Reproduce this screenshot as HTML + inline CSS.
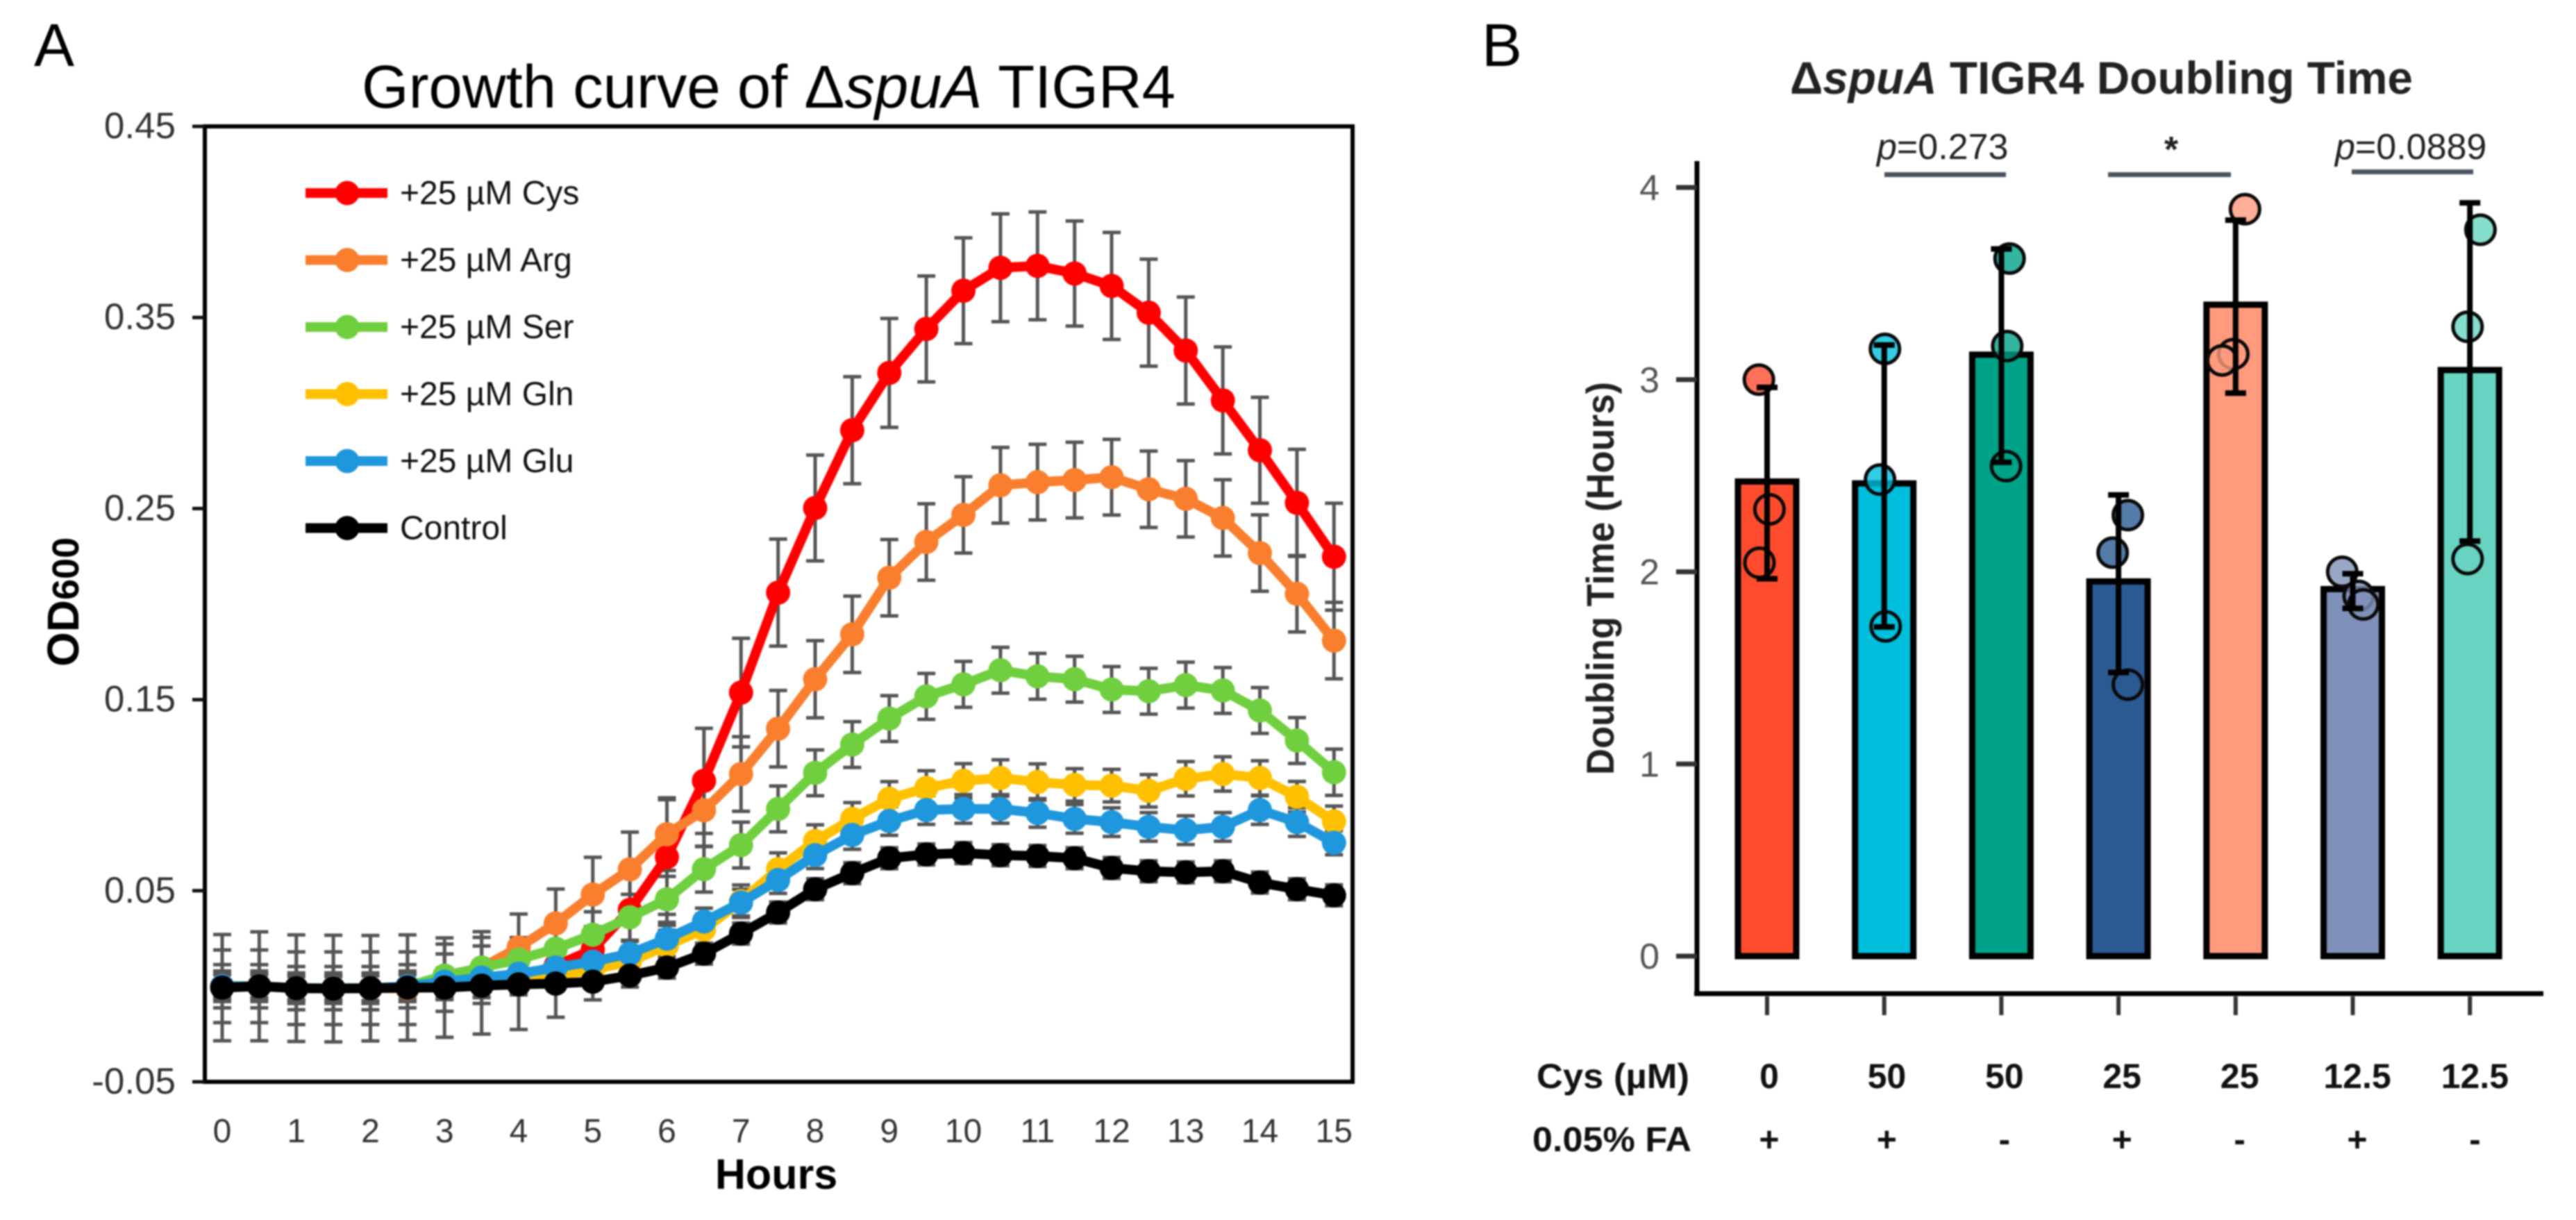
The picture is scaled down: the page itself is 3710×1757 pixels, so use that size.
<!DOCTYPE html>
<html lang="en">
<head>
<meta charset="utf-8">
<title>Growth curve and doubling time of ΔspuA TIGR4</title>
<style>
html,body{margin:0;padding:0;background:#fff;width:3710px;height:1757px;overflow:hidden}
svg{display:block;font-family:"Liberation Sans",Arial,sans-serif;filter:blur(1px)}
</style>
</head>
<body>
<svg id="figure" xmlns="http://www.w3.org/2000/svg" width="3710" height="1757" viewBox="0 0 3710 1757">
  <rect width="3710" height="1757" fill="#fff"/>
  <text x="49" y="95" font-size="87" fill="#000">A</text>
  <text x="2134" y="95" font-size="87" fill="#000">B</text>
  <text x="521" y="155" font-size="87" fill="#000" textLength="1172" lengthAdjust="spacingAndGlyphs">Growth curve of Δ<tspan font-style="italic">spuA</tspan> TIGR4</text>
  <text transform="translate(113,960) rotate(-90)" font-weight="bold" fill="#000" font-size="64">OD<tspan font-size="54">600</tspan></text>
  <text x="1118" y="1712" font-size="61" font-weight="bold" text-anchor="middle" fill="#000">Hours</text>
  <g id="chartA"></g>

  <text x="2578" y="135" font-size="66" font-weight="bold" fill="#222" textLength="897" lengthAdjust="spacingAndGlyphs">Δ<tspan font-style="italic">spuA</tspan> TIGR4 Doubling Time</text>
  <text transform="translate(2324,1116) rotate(-90)" font-size="56" font-weight="bold" fill="#222" textLength="566" lengthAdjust="spacingAndGlyphs">Doubling Time (Hours)</text>
  <g id="chartB"></g>

  <rect x="2714" y="248" width="175" height="7" fill="#4b5560"/>
  <rect x="3036" y="248" width="177" height="7" fill="#4b5560"/>
  <rect x="3387" y="244" width="175" height="7" fill="#4b5560"/>
  <text x="2703" y="229" font-size="52" fill="#222"><tspan font-style="italic">p</tspan>=0.273</text>
  <text x="3127" y="233" font-size="52" font-weight="bold" text-anchor="middle" fill="#222">*</text>
  <text x="3363" y="229" font-size="52" fill="#222"><tspan font-style="italic">p</tspan>=0.0889</text>
  <text x="2213" y="1567" font-size="50" font-weight="bold" fill="#111" textLength="220" lengthAdjust="spacingAndGlyphs">Cys (µM)</text>
  <text x="2207" y="1658" font-size="50" font-weight="bold" fill="#111" textLength="229" lengthAdjust="spacingAndGlyphs">0.05% FA</text>
</svg>

<script>
// ---------- Panel A data ----------
const hours = [0,0.5,1,1.5,2,2.5,3,3.5,4,4.5,5,5.5,6,6.5,7,7.5,8,8.5,9,9.5,10,10.5,11,11.5,12,12.5,13,13.5,14,14.5,15];
const yTickValuesA = [-0.05,0.05,0.15,0.25,0.35,0.45];
const yTickLabelsA = ['-0.05','0.05','0.15','0.25','0.35','0.45'];
const xTickValuesA = [0,1,2,3,4,5,6,7,8,9,10,11,12,13,14,15];
const seriesNames = ['+25 µM Cys','+25 µM Arg','+25 µM Ser','+25 µM Gln','+25 µM Glu','Control'];

const cysValues = [0,0,-0.001,-0.001,-0.001,-0.001,0,0.002,0.005,0.0108,0.0192,0.04,0.0676,0.1075,0.1537,0.206,0.2503,0.291,0.321,0.344,0.364,0.376,0.377,0.373,0.3665,0.3525,0.3327,0.3066,0.2805,0.253,0.2248];
const argValues = [0,0,-0.001,-0.001,-0.001,-0.001,0.0045,0.0098,0.0203,0.0329,0.048,0.0612,0.0796,0.0921,0.1111,0.1348,0.1607,0.1842,0.2138,0.2325,0.2467,0.2622,0.2638,0.2649,0.2664,0.2601,0.2551,0.2451,0.2267,0.2054,0.1809];
const serValues = [0,0,-0.001,-0.001,-0.001,0,0.0056,0.0098,0.014,0.0197,0.027,0.0361,0.0455,0.0613,0.0739,0.0928,0.1117,0.1265,0.1401,0.1517,0.158,0.1654,0.1622,0.1607,0.1553,0.1544,0.1576,0.1548,0.1443,0.1286,0.112];
const glnValues = [0,0,-0.001,-0.001,-0.001,0,0.0014,0.0024,0.0035,0.0056,0.0087,0.0129,0.0213,0.0297,0.0445,0.0613,0.076,0.0876,0.0981,0.1038,0.1075,0.109,0.1069,0.1054,0.105,0.1023,0.1086,0.1111,0.109,0.0992,0.0863];
const gluValues = [0,0,-0.001,-0.001,-0.001,0,0.0024,0.0045,0.0066,0.0098,0.0129,0.0171,0.0249,0.0339,0.0438,0.0556,0.0686,0.0792,0.0865,0.0922,0.0928,0.0928,0.0907,0.0876,0.0859,0.0834,0.0817,0.0834,0.0922,0.0859,0.0751];
const controlValues = [-0.0007,0,-0.001,-0.0012,-0.001,-0.0007,-0.0007,0.0003,0.001,0.0014,0.0024,0.0056,0.0098,0.0171,0.0276,0.0386,0.0508,0.0592,0.067,0.069,0.0697,0.0686,0.0682,0.067,0.0619,0.0602,0.0596,0.0602,0.0543,0.0508,0.0476];

const cysErrors = [0.006,0.006,0.006,0.006,0.007,0.007,0.007,0.008,0.009,0.01,0.012,0.02,0.03,0.0275,0.0284,0.028,0.0277,0.028,0.0285,0.0277,0.0277,0.0282,0.0282,0.0275,0.028,0.028,0.028,0.028,0.0277,0.028,0.028];
const argErrors = [0.019,0.019,0.019,0.019,0.019,0.019,0.0176,0.0188,0.0175,0.018,0.0195,0.0195,0.019,0.019,0.0195,0.02,0.0202,0.02,0.02,0.02,0.02,0.0198,0.0198,0.0198,0.0198,0.02,0.02,0.02,0.02,0.02,0.02];
const serErrors = [0.0113,0.0113,0.0113,0.0113,0.0113,0.0113,0.0113,0.0113,0.0115,0.012,0.012,0.012,0.012,0.012,0.012,0.012,0.012,0.012,0.012,0.012,0.012,0.012,0.012,0.012,0.012,0.012,0.012,0.012,0.012,0.012,0.0121];
const glnErrors = [0.008,0.008,0.008,0.008,0.008,0.008,0.008,0.008,0.008,0.008,0.008,0.008,0.008,0.008,0.0085,0.0085,0.0085,0.0085,0.009,0.009,0.009,0.0095,0.0095,0.0085,0.0085,0.0085,0.009,0.009,0.009,0.008,0.008];
const gluErrors = [0.0065,0.0065,0.0065,0.0065,0.0065,0.0065,0.0065,0.0065,0.0065,0.0065,0.0065,0.0065,0.007,0.007,0.007,0.007,0.007,0.0075,0.0075,0.0075,0.0075,0.0075,0.0075,0.0075,0.0075,0.0075,0.0075,0.0075,0.0075,0.0075,0.0063];
const controlErrors = [0.0278,0.0285,0.0279,0.0279,0.0276,0.0276,0.026,0.0253,0.0236,0.0176,0.0095,0.006,0.0055,0.0055,0.0055,0.0055,0.0055,0.0055,0.0055,0.0055,0.0055,0.0055,0.0055,0.0055,0.0055,0.0055,0.0055,0.0055,0.0055,0.0055,0.0055];

// ---------- Panel B data ----------
const barCysLabels = ['0','50','50','25','25','12.5','12.5'];
const barFaLabels = ['+','+','-','+','-','+','-'];
const barMeans = [2.47,2.46,3.13,1.95,3.39,1.91,3.05];
const barErrorHigh = [2.96,3.18,3.68,2.40,3.83,1.99,3.92];
const barErrorLow = [1.964,1.713,2.57,1.476,2.93,1.81,2.16];
const replicateOne = [3.0,3.16,3.63,2.295,3.887,2.0,3.78];
const replicateTwo = [2.325,2.48,3.175,2.10,3.133,1.875,3.275];
const replicateThree = [2.047,1.716,2.55,1.413,3.10,1.83,2.067];
const jitterOne = [-0.07,0.006,0.07,0.08,0.08,-0.09,0.09];
const jitterTwo = [0.02,-0.036,0.05,-0.05,-0.02,0.05,-0.02];
const jitterThree = [-0.065,0.012,0.04,0.08,-0.115,0.09,-0.02];
const yTickValuesB = [0,1,2,3,4];

// ---------- Styles ----------
const seriesColors = ['#ff0000','#f97f2e','#70cf3f','#ffc000','#1f97dc','#000000'];
const barColors = ['#ff4c2e','#00bfdc','#00a387','#2b5a92','#ff9a7d','#7f91b8','#68d3c0'];

const NS = 'http://www.w3.org/2000/svg';
function mk(parent, tag, attrs, text) {
  const el = document.createElementNS(NS, tag);
  for (const k in attrs) el.setAttribute(k, attrs[k]);
  if (text !== undefined) el.textContent = text;
  parent.appendChild(el);
  return el;
}

// ---------- Panel A ----------
const chartA = document.getElementById('chartA');
const plotA = {left:295, right:1948, top:182, bottom:1558};
function xA(t) { return 320 + t * 106.75; }
function yA(v) { return plotA.bottom - (v + 0.05) / 0.5 * (plotA.bottom - plotA.top); }

const seriesValues = [cysValues, argValues, serValues, glnValues, gluValues, controlValues];
const seriesErrors = [cysErrors, argErrors, serErrors, glnErrors, gluErrors, controlErrors];

const frameA = mk(chartA, 'rect', {x:plotA.left, y:plotA.top, width:plotA.right-plotA.left, height:plotA.bottom-plotA.top, fill:'#fff', stroke:'#000', 'stroke-width':6});



yTickValuesA.forEach(function (v, i) {
  const tick = mk(chartA, 'line', {x1:277, x2:plotA.left, y1:yA(v), y2:yA(v), stroke:'#111', 'stroke-width':5});
  
  
  const label = mk(chartA, 'text', {x:253, y:yA(v)+17, 'font-size':53, 'text-anchor':'end', fill:'#333'}, yTickLabelsA[i]);
  
  
});
xTickValuesA.forEach(function (t) {
  const label = mk(chartA, 'text', {x:xA(t), y:1645, 'font-size':48, 'text-anchor':'middle', fill:'#333'}, String(t));
  
  
});

// error bars sit behind every curve
seriesValues.forEach(function (values, s) {
  values.forEach(function (v, i) {
    const e = seriesErrors[s][i];
    const g = mk(chartA, 'g', {stroke:'#555', 'stroke-width':5});
    
    
    mk(g, 'line', {x1:xA(hours[i]), x2:xA(hours[i]), y1:yA(v-e), y2:yA(v+e)});
    mk(g, 'line', {x1:xA(hours[i])-13, x2:xA(hours[i])+13, y1:yA(v+e), y2:yA(v+e)});
    mk(g, 'line', {x1:xA(hours[i])-13, x2:xA(hours[i])+13, y1:yA(v-e), y2:yA(v-e)});
  });
});
seriesValues.forEach(function (values, s) {
  const path = mk(chartA, 'polyline', {points:values.map(function (v, i) { return xA(hours[i]) + ',' + yA(v); }).join(' '), fill:'none', stroke:seriesColors[s], 'stroke-width':14, 'stroke-linejoin':'round'});
  
  
  values.forEach(function (v, i) {
    const dot = mk(chartA, 'circle', {cx:xA(hours[i]), cy:yA(v), r:17.5, fill:seriesColors[s]});
    
    
  });
});

// legend
seriesNames.forEach(function (name, s) {
  const rowY = 278 + s * 96.5;
  const line = mk(chartA, 'line', {x1:440, x2:558, y1:rowY, y2:rowY, stroke:seriesColors[s], 'stroke-width':14});
  
  
  const dot = mk(chartA, 'circle', {cx:500, cy:rowY, r:17.5, fill:seriesColors[s]});
  
  
  const label = mk(chartA, 'text', {x:576, y:rowY+16, 'font-size':48, fill:'#111'}, name);
  
  
});

// ---------- Panel B ----------
const chartB = document.getElementById('chartB');
const zeroB = 1377, unitB = 276.75, bandB = 168.7, firstBarB = 2545;
function xB(i) { return firstBarB + i * bandB; }
function yB(v) { return zeroB - v * unitB; }

const axisYB = mk(chartB, 'line', {x1:2444, x2:2444, y1:232, y2:1434, stroke:'#000', 'stroke-width':7});


const axisXB = mk(chartB, 'line', {x1:2440, x2:3663, y1:1431, y2:1431, stroke:'#000', 'stroke-width':7});



yTickValuesB.forEach(function (v) {
  const tick = mk(chartB, 'line', {x1:2414, x2:2444, y1:yB(v), y2:yB(v), stroke:'#333', 'stroke-width':7});
  
  
  const label = mk(chartB, 'text', {x:2390, y:yB(v)+18, 'font-size':52, 'text-anchor':'end', fill:'#555'}, String(v));
  
  
});

barMeans.forEach(function (mean, i) {
  const bar = mk(chartB, 'rect', {x:xB(i)-42, y:yB(mean), width:84, height:zeroB-yB(mean), fill:barColors[i], stroke:'#000', 'stroke-width':9});
  
  

  const tick = mk(chartB, 'line', {x1:xB(i), x2:xB(i), y1:1435, y2:1462, stroke:'#333', 'stroke-width':6});
  
  

  [[replicateOne, jitterOne],[replicateTwo, jitterTwo],[replicateThree, jitterThree]].forEach(function (rep) {
    const c = mk(chartB, 'circle', {cx:xB(i + rep[1][i]), cy:yB(rep[0][i]), r:21, fill:barColors[i], 'fill-opacity':0.8, stroke:'#0a0a0a', 'stroke-width':5});
    
    
  });

  const err = mk(chartB, 'g', {stroke:'#000', 'stroke-width':8});
  
  
  mk(err, 'line', {x1:xB(i), x2:xB(i), y1:yB(barErrorLow[i]), y2:yB(barErrorHigh[i])});
  mk(err, 'line', {x1:xB(i)-15, x2:xB(i)+15, y1:yB(barErrorHigh[i]), y2:yB(barErrorHigh[i])});
  mk(err, 'line', {x1:xB(i)-15, x2:xB(i)+15, y1:yB(barErrorLow[i]), y2:yB(barErrorLow[i])});

  const cys = mk(chartB, 'text', {x:xB(i) + 3 + i * 0.7, y:1567, 'font-size':50, 'font-weight':'bold', 'text-anchor':'middle', fill:'#111'}, barCysLabels[i]);
  
  
  const fa = mk(chartB, 'text', {x:xB(i) + 3 + i * 0.7, y:1658, 'font-size':50, 'font-weight':'bold', 'text-anchor':'middle', fill:'#111'}, barFaLabels[i]);
  
  
});
</script>
</body>
</html>
